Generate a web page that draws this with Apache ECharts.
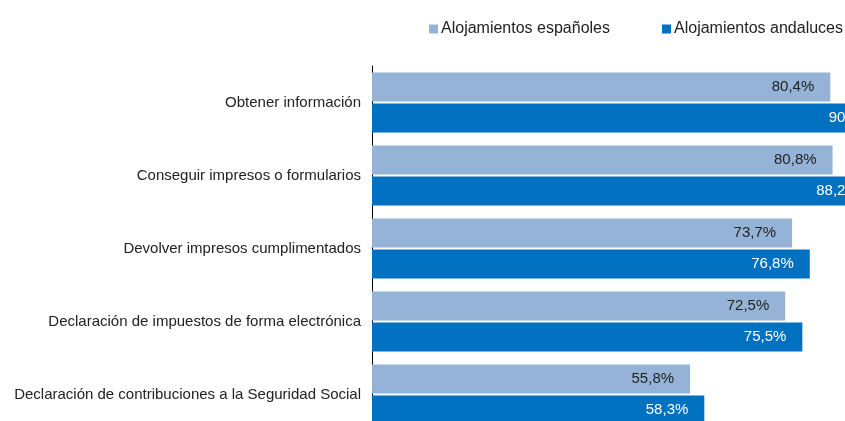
<!DOCTYPE html>
<html>
<head>
<meta charset="utf-8">
<script src="https://cdn.jsdelivr.net/npm/echarts@6/dist/echarts.min.js"></script>
<style>
  html, body { margin: 0; padding: 0; background: #fff; overflow: hidden; width: 845px; height: 421px; }
  /* el grafico original se sale por la derecha y por abajo */
  #chart { width: 960px; height: 440px; }
</style>
</head>
<body>
<div id="chart"></div>
<script>
// categorias (de arriba a abajo)
var categories = [
  'Obtener información',
  'Conseguir impresos o formularios',
  'Devolver impresos cumplimentados',
  'Declaración de impuestos de forma electrónica',
  'Declaración de contribuciones a la Seguridad Social'
];
var seriesNames = ['Alojamientos españoles', 'Alojamientos andaluces'];
var espanoles = [80.4, 80.8, 73.7, 72.5, 55.8];
var andaluces = [90.4, 88.2, 76.8, 75.5, 58.3];

var FONT = 'Liberation Sans';

var chart = echarts.init(document.getElementById('chart'), null, { renderer: 'canvas' });

// etiqueta con coma decimal
function fmt(p) {
  return p.value.toFixed(1).replace('.', ',') + '%';
}

function legendAt(name, left) {
  return {
    data: [name],
    left: left,
    top: 16,
    itemWidth: 9,
    itemHeight: 9,
    icon: 'rect',
    textStyle: { fontFamily: FONT, fontSize: 16, color: '#222', padding: [7, 0, 0, -2] }
  };
}

var option = {
  animation: false,
  color: ['#95B3D7', '#0070C0'],
  textStyle: { fontFamily: FONT },
  legend: [legendAt(seriesNames[0], 424), legendAt(seriesNames[1], 657)],
  grid: {
    left: 372,
    top: 66,
    width: 570,
    height: 365
  },
  xAxis: {
    type: 'value',
    min: 0,
    max: 100,
    show: false
  },
  yAxis: {
    type: 'category',
    data: categories,
    inverse: true,
    axisLine: { show: true, lineStyle: { color: '#000', width: 1 } },
    axisTick: { show: false },
    axisLabel: { fontFamily: FONT, fontSize: 15, color: '#222', margin: 11, padding: [5, 0, 0, 0] }
  },
  series: [{
    name: seriesNames[0],
    type: 'bar',
    data: espanoles,
    barWidth: 29,
    barGap: '7%',
    label: {
      show: true,
      position: 'insideRight',
      distance: 16,
      formatter: fmt,
      fontFamily: FONT,
      fontSize: 15,
      color: '#222',
      padding: [4, 0, 0, 0]
    }
  }, {
    name: seriesNames[1],
    type: 'bar',
    data: andaluces,
    barWidth: 29,
    label: {
      show: true,
      position: 'insideRight',
      distance: 16,
      formatter: fmt,
      fontFamily: FONT,
      fontSize: 15,
      color: '#fff',
      padding: [4, 0, 0, 0]
    }
  }]
};

chart.setOption(option);
</script>
</body>
</html>
